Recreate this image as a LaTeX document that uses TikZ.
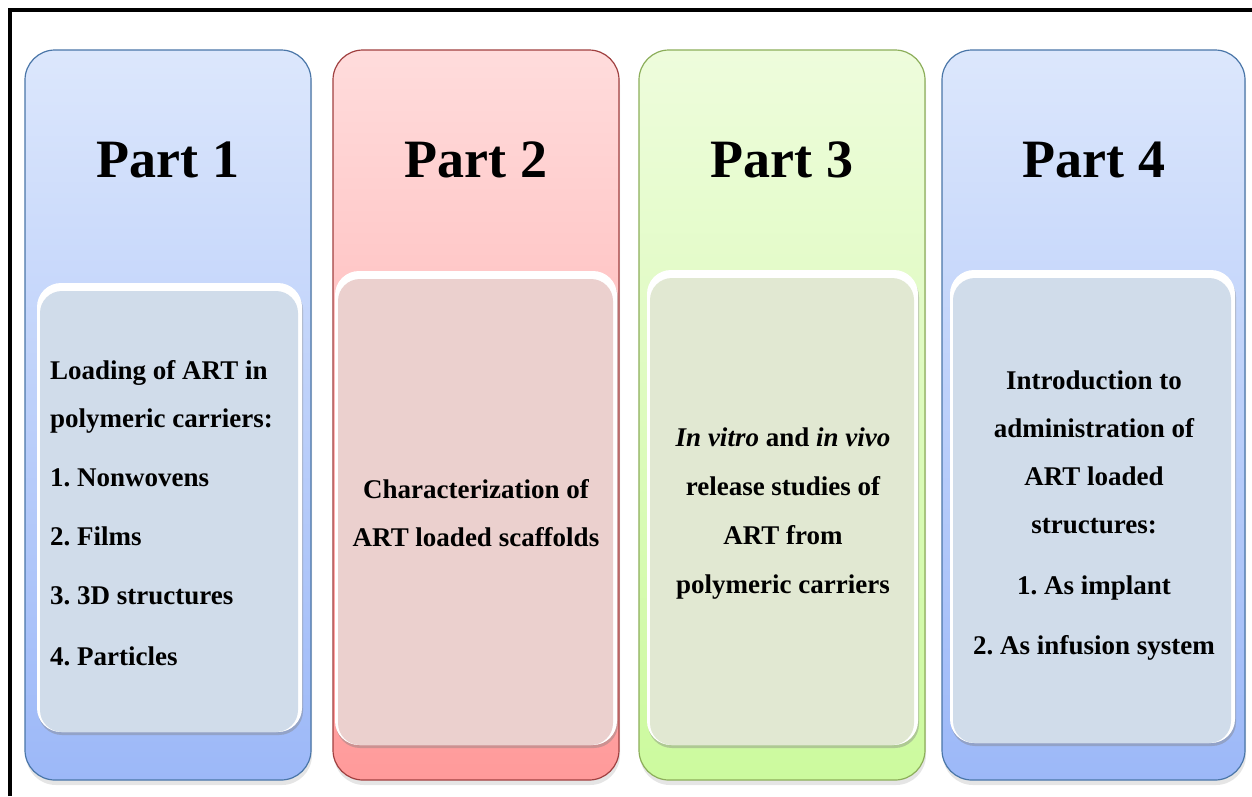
\documentclass[tikz,border=0pt]{standalone}
\usepackage{xcolor}
\usepackage{fontspec}
\setmainfont{Liberation Serif}
\usepackage{tikz}
\usetikzlibrary{positioning}
\usetikzlibrary{shadows}

\definecolor{blueTop}{HTML}{DCE7FC}
\definecolor{blueMid}{HTML}{C4D6FB}
\definecolor{blueBot}{HTML}{9CB8F8}
\definecolor{blueLine}{HTML}{4A76A8}
\definecolor{blueIn}{HTML}{D0DCEA}
\definecolor{redTop}{HTML}{FFDCDC}
\definecolor{redMid}{HTML}{FFC6C6}
\definecolor{redBot}{HTML}{FF9A9A}
\definecolor{redLine}{HTML}{A04040}
\definecolor{redIn}{HTML}{EBD0CE}
\definecolor{greenTop}{HTML}{EEFCDC}
\definecolor{greenMid}{HTML}{E0FCC2}
\definecolor{greenBot}{HTML}{CCFA9E}
\definecolor{greenLine}{HTML}{8CAE5A}
\definecolor{greenIn}{HTML}{E1E8D2}

\begin{document}
\begin{tikzpicture}[x=1pt, y=-1pt,
                    partbox/.style n args = {4}{ rectangle, rounded corners = 30pt, top color = #1, middle color = #2, bottom color = #3, draw = #4, line width = 1.2pt, minimum height = 730pt, inner sep=0pt, drop shadow = {opacity = 0.2, shadow xshift = 1pt, shadow yshift = -5pt} },
                    innerbox/.style = { rectangle, rounded corners = 24pt, fill = white, inner sep=0pt, drop shadow = {opacity = 0.4, shadow xshift = 1pt, shadow yshift = -3pt},
                        path picture = {\fill[#1, rounded corners = 22pt] ([xshift=3pt, yshift=-8pt]path picture bounding box.north west) rectangle ([xshift=-4pt, yshift=0pt]path picture bounding box.south east);} },
                    title/.style = { font = \fontsize{54}{60}\selectfont\bfseries, inner sep=0pt },
                    body/.style = { font = \fontsize{27}{48}\selectfont\bfseries\frenchspacing, inner sep=0pt },
                   ]
    \useasboundingbox (0,0) rectangle (1252,796);
    \fill[white] (0,0) rectangle (1252,796);
    % frame
    \draw[line width = 4pt] (10,796) -- (10,10) -- (1252,10);

    % outer boxes
    \node[partbox = {blueTop}{blueMid}{blueBot}{blueLine}, minimum width = 286pt] (Box1) at (168,415) {};
    \node[partbox = {redTop}{redMid}{redBot}{redLine}, minimum width = 286pt] (Box2) at (476,415) {};
    \node[partbox = {greenTop}{greenMid}{greenBot}{greenLine}, minimum width = 286pt] (Box3) at (782,415) {};
    \node[partbox = {blueTop}{blueMid}{blueBot}{blueLine}, minimum width = 303pt] (Box4) at (1093.5,415) {};

    % inner boxes
    \node[innerbox = blueIn, minimum width = 265pt, minimum height = 449pt] (In1) at (169.5,507.5) {};
    \node[innerbox = redIn, minimum width = 282pt, minimum height = 474pt] (In2) at (476,508) {};
    \node[innerbox = greenIn, minimum width = 271pt, minimum height = 475pt] (In3) at (782.5,507.5) {};
    \node[innerbox = blueIn, minimum width = 285pt, minimum height = 473pt] (In4) at (1092.5,506.5) {};

    % titles
    \node[title] (T1) at (168,160) {Part 1};
    \node[title] (T2) at (476,160) {Part 2};
    \node[title] (T3) at (782,160) {Part 3};
    \node[title] (T4) at (1094,160) {Part 4};

    % texts
    \node[body, align = left, anchor = west] (Txt1) at (50,513) {Loading of ART in\\ polymeric carriers:\\[11pt] 1. Nonwovens\\[11pt] 2. Films\\[11pt] 3. 3D structures\\[13pt] 4. Particles};
    \node[body, align = center] (Txt2) at (476,513) {Characterization of\\ ART loaded scaffolds};
    \node[body, align = center] (Txt3) at (783,514) {\textit{In vitro} and \textit{in vivo}\\[1pt] release studies of\\[1pt] ART from\\[1pt] polymeric carriers};
    \node[body, align = center] (Txt4) at (1094,516) {Introduction to\\ administration of\\ ART loaded\\ structures:\\[13pt] 1. As implant\\[12pt] 2. As infusion system};
\end{tikzpicture}
\end{document}
